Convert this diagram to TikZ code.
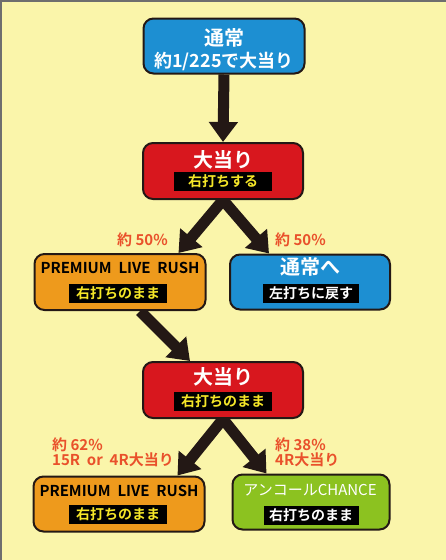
\documentclass[tikz,border=0pt]{standalone}
\usepackage{fontspec}
\usepackage{xcolor}
\usepackage{tikz}
\usetikzlibrary{arrows.meta}
\usetikzlibrary{backgrounds}
\newfontfamily\jpfont{Noto Sans CJK JP}[BoldFont={Noto Sans CJK JP Bold}]
\definecolor{paper}{RGB}{250,245,170}
\definecolor{framegray}{RGB}{110,110,110}
\definecolor{inkblack}{RGB}{35,24,21}
\definecolor{skyblue}{RGB}{29,143,210}
\definecolor{hitred}{RGB}{216,23,30}
\definecolor{rushorange}{RGB}{238,154,28}
\definecolor{encoregreen}{RGB}{140,194,32}
\definecolor{ratetext}{RGB}{233,81,43}
\definecolor{tagyellow}{RGB}{245,230,40}

\begin{document}
\begin{tikzpicture}[x=1pt,y=-1pt]
	\tikzstyle{modebox} = [draw=inkblack,line width=2pt,rounded corners=10pt,inner sep=0pt]
	\tikzstyle{modetitle} = [inner sep=0pt,text=white,font=\jpfont\bfseries\fontsize{20}{20}\selectfont]
	\tikzstyle{rushtitle} = [inner sep=0pt,text=black,font=\jpfont\bfseries\fontsize{15}{15}\selectfont]
	\tikzstyle{modetag} = [fill=black,inner sep=0pt,minimum width=98pt,minimum height=19pt,text=tagyellow,font=\jpfont\bfseries\fontsize{14}{14}\selectfont]
	\tikzstyle{ratelabel} = [inner sep=0pt,anchor=north west,align=left,text=ratetext,font=\jpfont\bfseries\fontsize{15}{15}\selectfont]
	\tikzstyle{flowarrow} = [draw=inkblack,line width=11pt,-{Triangle[width=28pt,length=20pt]}]

	\useasboundingbox (0,0) rectangle (446,560);

	% First mode
	\node[modebox,fill=skyblue,minimum width=161pt,minimum height=55pt] (normal) at (224,46) {};
	\node[modetitle] (normaltitle) at (224,38) {通常};
	\node[modetitle,font=\jpfont\bfseries\fontsize{18}{18}\selectfont] (normalodds) at (224,61) {約1/225で大当り};

	% First jackpot
	\node[modebox,fill=hitred,minimum width=160pt,minimum height=56pt] (hitA) at (223,171) {};
	\node[modetitle] (hitAtitle) at (223,160) {大当り};
	\node[modetag] (hitAtag) at (223,181.5) {右打ちする};

	% Branches after the first jackpot
	\node[modebox,fill=rushorange,minimum width=171pt,minimum height=56pt] (rushA) at (120,282) {};
	\node[rushtitle] (rushAtitle) at (120,268) {PREMIUM\ \ LIVE\ \ RUSH};
	\node[modetag] (rushAtag) at (118,293.5) {右打ちのまま};

	\node[modebox,fill=skyblue,minimum width=160pt,minimum height=55pt] (back) at (310,282) {};
	\node[modetitle] (backtitle) at (310,267) {通常へ};
	\node[modetag,text=white,minimum width=96pt] (backtag) at (311,293.5) {左打ちに戻す};

	\node[ratelabel] (rateleft) at (117,233) {約 50\%};
	\node[ratelabel] (rateright) at (275,233) {約 50\%};

	% Second jackpot
	\node[modebox,fill=hitred,minimum width=160pt,minimum height=56pt] (hitB) at (223,390) {};
	\node[modetitle] (hitBtitle) at (223,377) {大当り};
	\node[modetag] (hitBtag) at (223,401) {右打ちのまま};

	% Branches after the second jackpot
	\node[modebox,fill=rushorange,minimum width=171pt,minimum height=55pt] (rushB) at (119,504) {};
	\node[rushtitle] (rushBtitle) at (119,491) {PREMIUM\ \ LIVE\ \ RUSH};
	\node[modetag] (rushBtag) at (118,514.5) {右打ちのまま};

	\node[modebox,fill=encoregreen,minimum width=157pt,minimum height=55pt] (encore) at (311,502) {};
	\node[modetitle,font=\jpfont\fontsize{15}{15}\selectfont] (encoretitle) at (310,490) {アンコールCHANCE};
	\node[modetag,text=white,minimum width=95pt] (encoretag) at (311,515) {右打ちのまま};

	\node[ratelabel] (ratelow) at (52,438) {約 62\%\\15R\ \ or\ \ 4R大当り};
	\node[ratelabel] (ratehigh) at (275,438) {約 38\%\\4R大当り};

	\begin{pgfonlayer}{background}
		% Paper and frame
		\fill[paper] (0,0) rectangle (446,560);
		\draw[framegray,line width=2pt] (1,560) -- (1,1) -- (446,1);

		% Draw arrows
		\draw[flowarrow] (normal.south) -- (hitA.north);
		\draw[flowarrow] (hitA.south) -- ([xshift=-28pt]rushA.north east);
		\draw[flowarrow] (hitA.south) -- ([xshift=40pt]back.north west);
		\draw[flowarrow] ([xshift=20pt]rushA.south) -- ([xshift=-33pt]hitB.north);
		\draw[flowarrow] (hitB.south) -- ([xshift=-28pt]rushB.north east);
		\draw[flowarrow] (hitB.south) -- ([xshift=35pt]encore.north west);
	\end{pgfonlayer}
\end{tikzpicture}
\end{document}
